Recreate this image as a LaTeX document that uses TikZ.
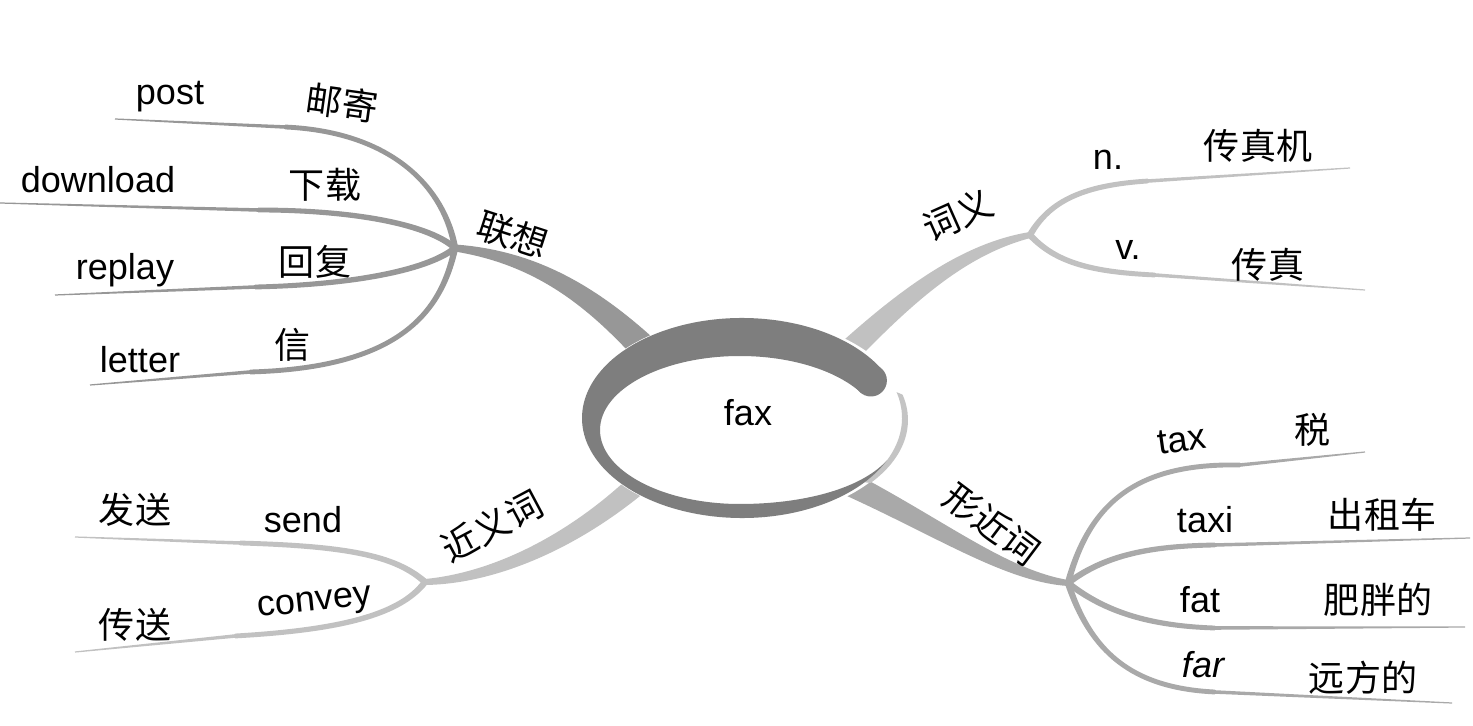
\documentclass[tikz,border=0pt]{standalone}
\usepackage{fontspec}
\setmainfont{Liberation Sans}
\newfontfamily\cjk{Noto Sans CJK SC}
\usetikzlibrary{calc}
\definecolor{ringgray}{HTML}{7E7E7E}
\definecolor{assocgray}{HTML}{979797}
\definecolor{meangray}{HTML}{C1C1C1}
\definecolor{formgray}{HTML}{A9A9A9}
\definecolor{edgegray}{HTML}{C4C4C4}
\begin{document}
\begin{tikzpicture}[x=0.2mm,y=-0.2mm,
		enword/.style={font=\fontsize{20.5}{24}\selectfont,inner sep=1pt},
		zhword/.style={font=\cjk\fontsize{20.5}{24}\selectfont,inner sep=1pt}]
	\newcommand\TaperBranch[7]{% colour, start, c1, c2, end, half widths (px)
		\pgfmathsetlengthmacro\wS{#6*0.2mm}
		\pgfmathsetlengthmacro\wE{#7*0.2mm}
		\pgfmathsetlengthmacro\wA{(2*#6+#7)/3*0.2mm}
		\pgfmathsetlengthmacro\wB{(#6+2*#7)/3*0.2mm}
		\fill[#1] ($(#2)!\wS!90:(#3)$) .. controls ($(#3)!\wA!90:(#4)$) and ($(#4)!\wB!90:(#5)$) .. ($(#5)!\wE!-90:(#4)$)
		-- ($(#5)!\wE!90:(#4)$) .. controls ($(#4)!\wB!-90:(#5)$) and ($(#3)!\wA!-90:(#4)$) .. ($(#2)!\wS!-90:(#3)$) -- cycle;
	}
	\newcommand\TaperLine[5]{% colour, start, end, half widths (px)
		\pgfmathsetlengthmacro\wS{#4*0.2mm}
		\pgfmathsetlengthmacro\wE{#5*0.2mm}
		\fill[#1] ($(#2)!\wS!90:(#3)$) -- ($(#3)!\wE!-90:(#2)$) -- ($(#3)!\wE!90:(#2)$) -- ($(#2)!\wS!-90:(#3)$) -- cycle;
	}
	\useasboundingbox (0,0) rectangle (1473,726);
	\def\cx{742} \def\cy{418}
	% hubs and roots under the ring
	\coordinate (hubL) at (455,248);
	\coordinate (hubW) at (1030,235);
	\coordinate (hubS) at (425,582);
	\coordinate (hubX) at (1068,583);
	\coordinate (coreL) at (665,370);
	\coordinate (coreW) at (825,375);
	\coordinate (coreS) at (665,458);
	\coordinate (coreX) at (820,470);
	% kinks and free ends
	\foreach \n/\kx/\ky/\ex/\ey in {post/285/127/115/119, down/258/210/0/203, replay/255/287/55/295, letter/250/372/90/385,
		n/1148/181/1350/168, v/1155/275/1365/290, send/240/543/75/537, convey/235/636/75/652,
		tax/1240/465/1365/452, taxi/1215/545/1470/538, fat/1215/628/1465/627, far/1215/692/1452/703}
	{\coordinate (k\n) at (\kx,\ky); \coordinate (e\n) at (\ex,\ey);}
	% main branches
	\TaperBranch{assocgray}{coreL}{600,300}{540,258}{hubL}{15}{3.5}
	\TaperBranch{meangray}{coreW}{900,300}{960,250}{hubW}{13}{3}
	\TaperBranch{meangray}{coreS}{590,535}{500,578}{hubS}{12}{3}
	\TaperBranch{formgray}{coreX}{930,520}{1000,575}{hubX}{13}{3}
	% sub branches
	\TaperBranch{assocgray}{hubL}{445,190}{395,132}{kpost}{3.2}{2.4}
	\TaperBranch{assocgray}{hubL}{425,222}{345,210}{kdown}{3.2}{2.4}
	\TaperBranch{assocgray}{hubL}{425,272}{345,285}{kreplay}{3.2}{2.4}
	\TaperBranch{assocgray}{hubL}{440,320}{390,368}{kletter}{3.2}{2.4}
	\TaperBranch{meangray}{hubW}{1050,200}{1085,185}{kn}{3.2}{2.4}
	\TaperBranch{meangray}{hubW}{1055,262}{1090,272}{kv}{3.2}{2.4}
	\TaperBranch{meangray}{hubS}{395,555}{345,546}{ksend}{3.2}{2.4}
	\TaperBranch{meangray}{hubS}{400,615}{340,630}{kconvey}{3.2}{2.4}
	\TaperBranch{formgray}{hubX}{1090,500}{1140,463}{ktax}{3.2}{2.4}
	\TaperBranch{formgray}{hubX}{1105,555}{1150,546}{ktaxi}{3.2}{2.4}
	\TaperBranch{formgray}{hubX}{1105,612}{1150,626}{kfat}{3.2}{2.4}
	\TaperBranch{formgray}{hubX}{1090,650}{1130,688}{kfar}{3.2}{2.4}
	\foreach \n/\c in {post/assocgray, down/assocgray, replay/assocgray, letter/assocgray, n/meangray, v/meangray,
		send/meangray, convey/meangray, tax/formgray, taxi/formgray, fat/formgray, far/formgray}
	\TaperLine{\c}{k\n}{e\n}{1.8}{0.6};
	% the ring round the key word
	\fill[white] (744,418) ellipse [x radius=163, y radius=101];
	\fill[edgegray] ($(748,420)+(-15:160 and 98)$) arc[start angle=-15, end angle=40, x radius=160, y radius=98]
	-- ($(\cx,\cy)+(40:160 and 100)$) arc[start angle=40, end angle=-15, x radius=160, y radius=100] -- cycle;
	\coordinate (capA) at ($(\cx,\cy)+(-30:160 and 100)$);
	\coordinate (capB) at ($(740,430)+(-30:140 and 74)$);
	\fill[ringgray] (capA) arc[start angle=-30, end angle=-335, x radius=160, y radius=100]
	.. controls (860,490) and (800,504) .. (740,504)
	arc[start angle=-270, end angle=-30, x radius=140, y radius=74] -- cycle;
	\fill[ringgray] ($(capA)!0.5!(capB)$) circle [radius=16];
	\node[enword] (fax) at (748,413) {fax};
	% labels
	\node[zhword,rotate=-18] (lianxiang) at (513,235) {联想};
	\node[zhword,rotate=24] (ciyi) at (958,215) {词义};
	\node[zhword,rotate=28] (jinyici) at (492,526) {近义词};
	\node[zhword,rotate=-37] (xingjinci) at (992,524) {形近词};
	\foreach \n/\x/\y/\t in {post/170/97/post, download/98/180/download, replay/125/270/replay, letter/140/360/letter,
		n/1108/160/n., v/1128/250/v., send/303/520/send, taxi/1205/520/taxi, fat/1200/600/fat}
	\node[enword] (\n) at (\x,\y) {\t};
	\node[enword,rotate=6] (convey) at (315,605) {convey};
	\node[enword,rotate=8] (tax) at (1182,440) {tax};
	\node[enword,font=\fontsize{20.5}{24}\selectfont\itshape] (far) at (1203,665) {far};
	\node[zhword,rotate=-8] (youji) at (342,103) {邮寄};
	\foreach \n/\x/\y/\t in {xiazai/325/185/下载, huifu/315/262/回复, xin/293/345/信, czj/1258/146/传真机, cz/1268/265/传真,
		fasong/135/510/发送, chuansong/135/625/传送, shui/1312/430/税, chuzuche/1382/515/出租车, feipang/1378/600/肥胖的,
		yuanfang/1363/678/远方的}
	\node[zhword] (\n) at (\x,\y) {\t};
\end{tikzpicture}
\end{document}
